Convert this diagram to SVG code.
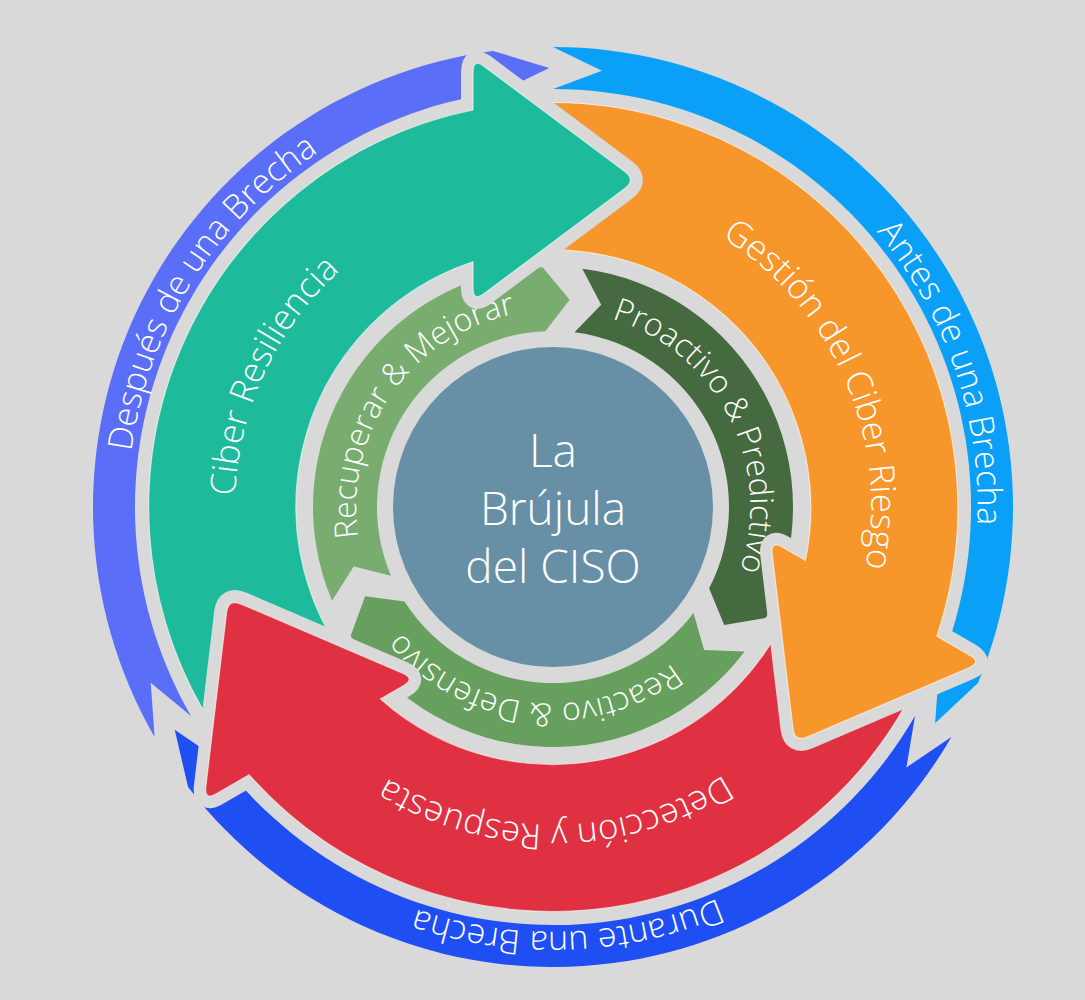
<svg xmlns="http://www.w3.org/2000/svg" xmlns:xlink="http://www.w3.org/1999/xlink" width="1085" height="1000" viewBox="0 0 1085 1000">
<style>
.t{font-family:"Open Sans","Liberation Sans",sans-serif;font-weight:300;fill:#ffffff}
.tout{font-size:34px}
.tbig{font-size:35px}
.tin{font-size:32px}
.tc{font-size:46px}
.big{stroke:#d9d9d9;stroke-width:24;stroke-linejoin:round;paint-order:stroke}
.hl{fill:none;stroke:#ffffff;stroke-opacity:.6;stroke-width:1.2}
.mk{fill:#000;stroke:#000;stroke-width:25;stroke-linejoin:round}
</style>
<defs>
<path id="arrow" d="M 473 110 L 473 72 Q 473 58 484.2 66.4 L 624.8 171.6 Q 636 180 624.8 188.4 L 484.2 293.6 Q 473 302 473 288 L 473 261.7 A 258 258 0 0 0 379.1 696.4 L 247.7 772.2 A 405 405 0 0 1 473 110 Z"/>
<path id="head" d="M 473 72 Q 473 58 484.2 66.4 L 624.8 171.6 Q 636 180 624.8 188.4 L 484.2 293.6 Q 473 302 473 288 Z"/>
<path id="outerSeg" d="M 553 47 A 460 460 0 0 1 978.0 683.0 L 935.1 723.2 L 939.2 667.0 A 418 418 0 0 0 553 89 L 601.9 70.7 Z"/>
<path id="innerSeg" d="M 582.3 268.8 A 240 240 0 0 1 765.9 617.8 L 724.2 625.1 L 709.1 588.3 A 176 176 0 0 0 574.5 332.3 L 601.2 304.7 Z"/>
<path id="pDespues" d="M 297.2 846.4 A 425 425 0 0 1 746.0 128.3"/>
<path id="pAntes" d="M 450.2 94.6 A 425 425 0 0 1 725.8 895.2"/>
<path id="pDurante" d="M 977.4 529.2 A 425 425 0 0 1 131.2 558.8"/>
<path id="pCiber" d="M 394 782.4 A 318 318 0 0 1 661.8 208.2"/>
<path id="pGestion" d="M 452.1 205.4 A 318 318 0 0 1 704.7 786.5"/>
<path id="pDeteccion" d="M 870 532 A 318 318 0 0 1 236.5 537.5"/>
<path id="pRecuperar" d="M 426.4 657.9 A 197 197 0 0 1 651.5 336.4"/>
<path id="pProactivo" d="M 479.2 324.3 A 197 197 0 0 1 657.4 674.1"/>
<path id="pReactivo" d="M 746 546.3 A 197 197 0 0 1 356.1 501.8"/>
<mask id="cutByRed" maskUnits="userSpaceOnUse" x="0" y="0" width="1085" height="1000">
<rect x="0" y="0" width="1085" height="1000" fill="#fff"/>
<use href="#head" class="mk" transform="rotate(240 553 507)"/>
</mask>
<mask id="cutByTeal" maskUnits="userSpaceOnUse" x="0" y="0" width="1085" height="1000">
<rect x="0" y="0" width="1085" height="1000" fill="#fff"/>
<use href="#head" class="mk"/>
</mask>
<mask id="cutByOrange" maskUnits="userSpaceOnUse" x="0" y="0" width="1085" height="1000">
<rect x="0" y="0" width="1085" height="1000" fill="#fff"/>
<use href="#head" class="mk" transform="rotate(120 553 507)"/>
</mask>
</defs>
<rect x="0" y="0" width="1085" height="1000" fill="#d9d9d9"/>

<g id="node-antes">
<use href="#outerSeg" fill="#0ba0f7"/>
<text class="t tout"><textPath href="#pAntes" startOffset="50%" text-anchor="middle">Antes de una Brecha</textPath></text>
</g>
<g id="node-durante">
<use href="#outerSeg" fill="#1f4ef3" transform="rotate(120 553 507)"/>
<text class="t tout"><textPath href="#pDurante" startOffset="50%" text-anchor="middle">Durante una Brecha</textPath></text>
</g>
<g id="node-despues">
<use href="#outerSeg" fill="#5a6ef8" transform="rotate(240 553 507)"/>
<text class="t tout"><textPath href="#pDespues" startOffset="50%" text-anchor="middle">Después de una Brecha</textPath></text>
</g>

<g id="node-proactivo">
<use href="#innerSeg" fill="#466a3f"/>
<text class="t tin"><textPath href="#pProactivo" startOffset="50%" text-anchor="middle">Proactivo &amp; Predictivo</textPath></text>
</g>
<g id="node-reactivo">
<use href="#innerSeg" fill="#67a05e" transform="rotate(120 553 507)"/>
<text class="t tin"><textPath href="#pReactivo" startOffset="50%" text-anchor="middle">Reactivo &amp; Defensivo</textPath></text>
</g>
<g id="node-recuperar">
<use href="#innerSeg" fill="#79ad6f" transform="rotate(240 553 507)"/>
<text class="t tin"><textPath href="#pRecuperar" startOffset="50%" text-anchor="middle">Recuperar &amp; Mejorar</textPath></text>
</g>

<g id="node-center">
<circle cx="553" cy="507" r="160" fill="#6790a6"/>
<text class="t tc" text-anchor="middle"><tspan x="553" y="467">La</tspan><tspan x="553" y="525">Brújula</tspan><tspan x="553" y="583">del CISO</tspan></text>
</g>

<g id="node-ciber">
<g mask="url(#cutByRed)">
<use href="#arrow" class="big" fill="#1dba9b"/>
<use href="#arrow" class="hl"/>
</g>
<text class="t tbig"><textPath href="#pCiber" startOffset="50%" text-anchor="middle">Ciber Resiliencia</textPath></text>
</g>
<g id="node-gestion">
<g mask="url(#cutByTeal)">
<use href="#arrow" class="big" fill="#f7962a" transform="rotate(120 553 507)"/>
<use href="#arrow" class="hl" transform="rotate(120 553 507)"/>
</g>
<text class="t tbig"><textPath href="#pGestion" startOffset="50%" text-anchor="middle">Gestión del Ciber Riesgo</textPath></text>
</g>
<g id="node-deteccion">
<g mask="url(#cutByOrange)">
<use href="#arrow" class="big" fill="#e03142" transform="rotate(240 553 507)"/>
<use href="#arrow" class="hl" transform="rotate(240 553 507)"/>
</g>
<text class="t tbig"><textPath href="#pDeteccion" startOffset="50%" text-anchor="middle">Detección y Respuesta</textPath></text>
</g>

<g id="connectors"></g>
</svg>
